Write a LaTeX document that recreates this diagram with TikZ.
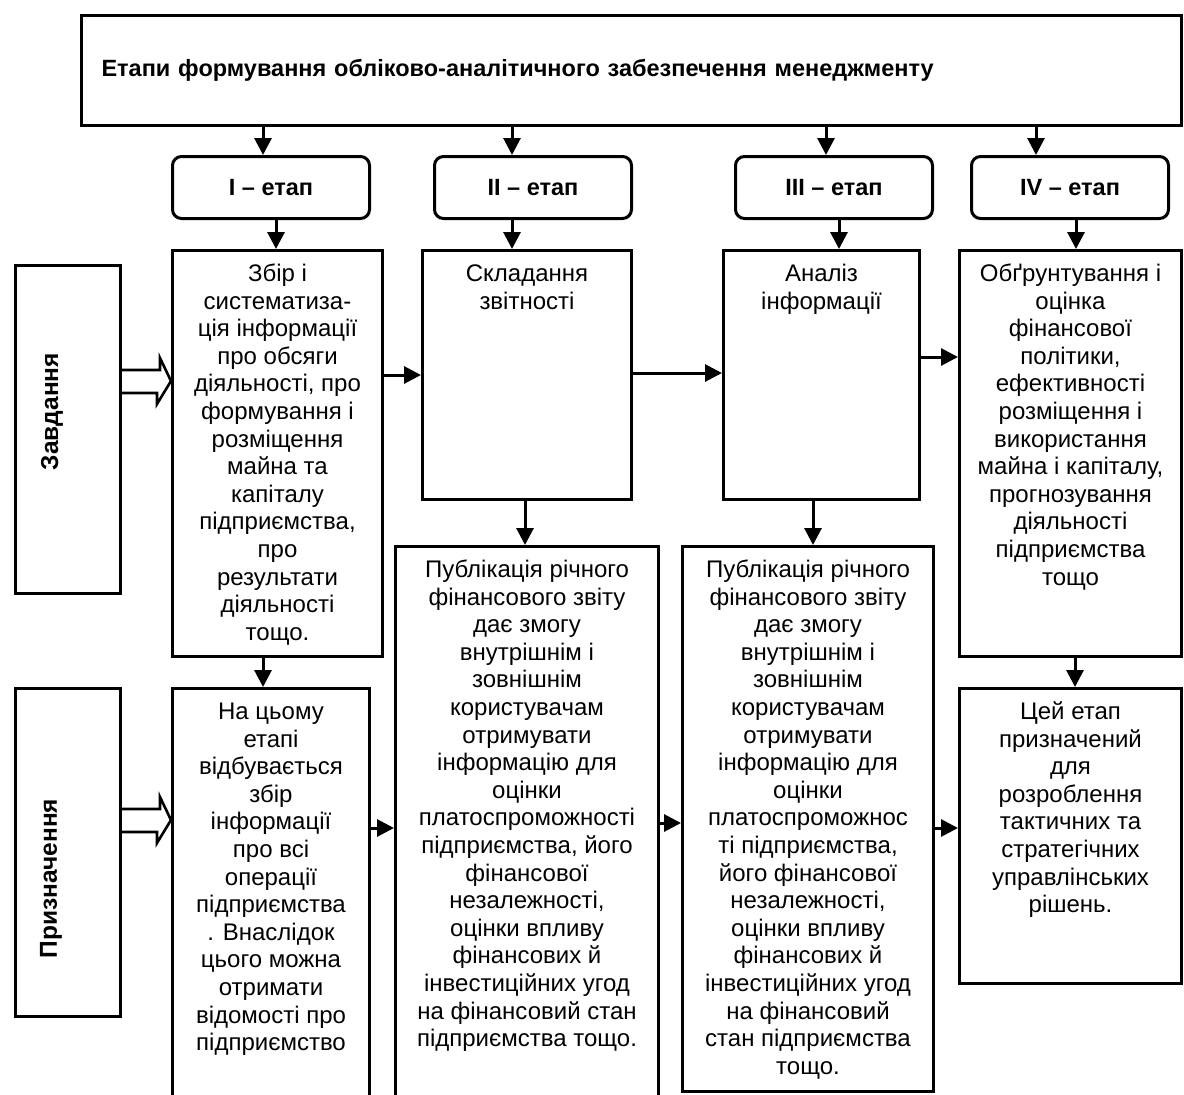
\documentclass[tikz,border=0pt]{standalone}
\usepackage{fontspec}
\setmainfont{Liberation Sans}
\usepackage{tikz}
\usetikzlibrary{arrows.meta, positioning, calc}
\tikzset{
  box/.style={draw, line width=3pt, inner sep=0pt, anchor=north west},
  stagebox/.style={draw, line width=3pt, rounded corners=9pt, inner sep=0pt, anchor=north west, minimum width=197pt, minimum height=62pt, font=\bfseries\fontsize{23.5}{27}\selectfont},
  sidelabel/.style={rotate=90, font=\bfseries\fontsize{24.5}{28}\selectfont},
  arr/.style={-{Triangle[length=17pt,width=17pt]}, line width=3pt},
  hollow/.style={line width=2.6pt, line join=miter}
}
\newcommand{\boxtext}[3]{\parbox[t][#1][t]{#2}{\centering\rule{0pt}{31pt}#3}}

\begin{document}
\begin{tikzpicture}[x=1pt, y=-1pt, font=\fontsize{24}{27.6}\selectfont]
\useasboundingbox (0,0) rectangle (1184,1095);
\node[box, minimum width=1100pt, minimum height=110pt, text width=1060pt, inner xsep=20pt, align=left, font=\bfseries\fontsize{23.5}{27}\selectfont] (title) at (80,14) {Етапи формування обліково-аналітичного забезпечення менеджменту};
\node[stagebox] (s1) at (171,155) {I -- етап};
\node[stagebox] (s2) at (433,155) {II -- етап};
\node[stagebox] (s3) at (734,155) {III -- етап};
\node[stagebox] (s4) at (970,155) {IV -- етап};
\node[box, minimum width=105pt, minimum height=328pt] (zav) at (14,264) {};
\node[sidelabel] (zavt) at ([xshift=-16pt, yshift=18pt]zav.center) {Завдання};
\node[box, minimum width=105pt, minimum height=328pt] (pryz) at (14,687) {};
\node[sidelabel] (pryzt) at ([xshift=-17pt, yshift=-26pt]pryz.center) {Призначення};
\node[box] (t1) at (171,249) {\boxtext{406pt}{210pt}{Збір і\\систематиза-\\ція інформації\\про обсяги\\діяльності, про\\формування і\\розміщення\\майна та\\капіталу\\підприємства,\\про\\результати\\діяльності\\тощо.}};
\node[box] (t2) at (421,249) {\boxtext{249pt}{209pt}{Складання\\звітності}};
\node[box] (t3) at (722,249) {\boxtext{249pt}{196pt}{Аналіз\\інформації}};
\node[box] (t4) at (958,249) {\boxtext{406pt}{222pt}{Обґрунтування і\\оцінка\\фінансової\\політики,\\ефективності\\розміщення і\\використання\\майна і капіталу,\\прогнозування\\діяльності\\підприємства\\тощо}};
\node[box] (t5) at (171,687) {\boxtext{420pt}{197pt}{На цьому\\етапі\\відбувається\\збір\\інформації\\про всі\\операції\\підприємства\\. Внаслідок\\цього можна\\отримати\\відомості про\\підприємство}};
\node[box] (p1) at (394,545) {\boxtext{560pt}{263pt}{Публікація річного\\фінансового звіту\\дає змогу\\внутрішнім і\\зовнішнім\\користувачам\\отримувати\\інформацію для\\оцінки\\платоспроможності\\підприємства, його\\фінансової\\незалежності,\\оцінки впливу\\фінансових й\\інвестиційних угод\\на фінансовий стан\\підприємства тощо.}};
\node[box] (p2) at (681,545) {\boxtext{545pt}{251pt}{Публікація річного\\фінансового звіту\\дає змогу\\внутрішнім і\\зовнішнім\\користувачам\\отримувати\\інформацію для\\оцінки\\платоспроможнос\\ті підприємства,\\його фінансової\\незалежності,\\оцінки впливу\\фінансових й\\інвестиційних угод\\на фінансовий\\стан підприємства\\тощо.}};
\node[box] (t6) at (958,687) {\boxtext{295pt}{222pt}{Цей етап\\призначений\\для\\розроблення\\тактичних та\\стратегічних\\управлінських\\рішень.}};
\foreach \xa/\a/\b in {263/title/s1, 512/title/s2, 826/title/s3, 1036/title/s4, 276/s1/t1, 512/s2/t2, 839/s3/t3, 1076/s4/t4, 263/t1/t5, 525/t2/p1, 813/t3/p2, 1075/t4/t6}{
  \coordinate (c) at (\xa,0);
  \draw[arr] (c |- \a.south) -- (c |- \b.north);
}
\foreach \ya/\a/\b in {375/t1/t2, 373/t2/t3, 357/t3/t4, 828/t5/p1, 823/p1/p2, 828/p2/t6}{
  \coordinate (c) at (0,\ya);
  \draw[arr] (c -| \a.east) -- (c -| \b.west);
}
\coordinate (h1) at (171,381);
\coordinate (h2) at (171,820);
\draw[hollow] (zav.east |- h1) ++(0,-11) -- ++(38,0) -- ++(0,-12) -- (t1.west |- h1) -- ++(-14,23) -- ++(0,-11) -- ++(-38,0);
\draw[hollow] (pryz.east |- h2) ++(0,-11) -- ++(38,0) -- ++(0,-12) -- (t5.west |- h2) -- ++(-14,23) -- ++(0,-11) -- ++(-38,0);
\end{tikzpicture}
\end{document}
